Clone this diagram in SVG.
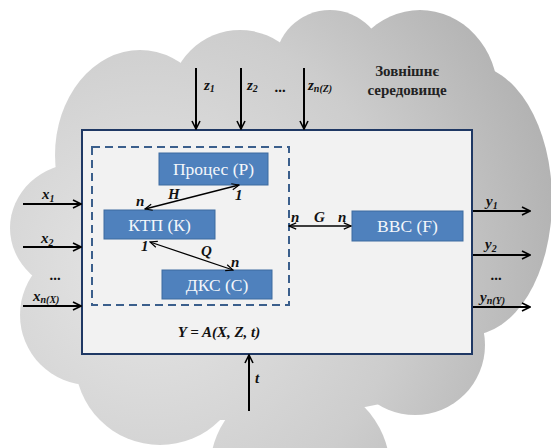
<svg xmlns="http://www.w3.org/2000/svg" width="551" height="448" viewBox="0 0 551 448">
<defs>
<radialGradient id="sky" gradientUnits="userSpaceOnUse" cx="150" cy="270" r="460">
<stop offset="0" stop-color="#e6e6e6"/>
<stop offset="0.55" stop-color="#cdcdcd"/>
<stop offset="1" stop-color="#ababab"/>
</radialGradient>
<marker id="ah" viewBox="0 0 10 10" refX="9" refY="5" markerWidth="10" markerHeight="10" markerUnits="userSpaceOnUse" orient="auto-start-reverse">
<path d="M1,1 L9,5 L1,9" fill="none" stroke="#000" stroke-width="1.6"/>
</marker>
<marker id="ahs" viewBox="0 0 10 10" refX="9" refY="5" markerWidth="9" markerHeight="9" markerUnits="userSpaceOnUse" orient="auto-start-reverse">
<path d="M1,1.5 L9,5 L1,8.5" fill="none" stroke="#000" stroke-width="1.3"/>
</marker>
</defs>
<style>
.node rect{fill:#4f81bd;stroke:#3d6b9f;stroke-width:1}
.node text{font-size:17.5px;fill:#f4f7fb;text-anchor:middle}
.lbl{font-weight:bold;font-style:italic;font-size:15px;fill:#111}
.sub{font-size:10px}
.io{stroke:#000;stroke-width:2;fill:none;marker-end:url(#ah)}
.rel{stroke:#000;stroke-width:1.3;fill:none;marker-start:url(#ahs);marker-end:url(#ahs)}
.env{font-weight:bold;font-size:15px;fill:#222;text-anchor:middle}
</style>
<rect width="551" height="448" fill="#ffffff"/>
<g id="cloud" fill="url(#sky)">
<ellipse cx="140" cy="155" rx="85" ry="105"/>
<circle cx="240" cy="100" r="70"/>
<circle cx="330" cy="65" r="55"/>
<ellipse cx="420" cy="95" rx="78" ry="85"/>
<ellipse cx="470" cy="200" rx="82" ry="135"/>
<circle cx="415" cy="345" r="70"/>
<circle cx="300" cy="470" r="90"/>
<circle cx="160" cy="360" r="85"/>
<circle cx="90" cy="315" r="70"/>
<ellipse cx="80" cy="228" rx="70" ry="65"/>
<polygon points="100,120 250,70 420,80 500,150 500,320 400,400 300,420 150,420 60,330 40,220"/>
</g>
<g font-family="Liberation Serif, Times New Roman, serif">
<g id="env-label">
<text class="env" x="407" y="76">Зовнішнє</text>
<text class="env" x="407" y="95">середовище</text>
</g>
<g id="system">
<rect x="82" y="130" width="390" height="224" fill="#f2f2f2" stroke="#1f3864" stroke-width="2"/>
<rect x="92" y="147" width="197" height="158" fill="none" stroke="#3b5f8c" stroke-width="2" stroke-dasharray="8,5"/>
<text class="lbl" x="219" y="337" text-anchor="middle" font-size="14">Y = A(X, Z, t)</text>
</g>
<g id="proc" class="node"><rect x="159" y="153" width="109" height="32"/><text x="213.5" y="175">Процес (Р)</text></g>
<g id="ktp" class="node"><rect x="104" y="210" width="111" height="29"/><text x="159.5" y="231">КТП (К)</text></g>
<g id="dks" class="node"><rect x="162" y="270" width="110" height="29"/><text x="217" y="291">ДКС (С)</text></g>
<g id="vvs" class="node"><rect x="352" y="211" width="111" height="30"/><text x="407.5" y="232">ВВС (F)</text></g>
<g id="connectors">
<line class="rel" x1="145" y1="209" x2="239" y2="185"/>
<line class="rel" x1="150" y1="242" x2="233" y2="270"/>
<line class="rel" x1="289" y1="226" x2="351" y2="226"/>
<line class="io" x1="23" y1="204" x2="81" y2="204"/>
<line class="io" x1="23" y1="247" x2="81" y2="247"/>
<line class="io" x1="23" y1="306" x2="81" y2="306"/>
<line class="io" x1="473" y1="211" x2="530" y2="211"/>
<line class="io" x1="473" y1="255" x2="530" y2="255"/>
<line class="io" x1="473" y1="307" x2="530" y2="307"/>
<line class="io" x1="196" y1="68" x2="196" y2="129"/>
<line class="io" x1="241" y1="68" x2="241" y2="129"/>
<line class="io" x1="304" y1="68" x2="304" y2="129"/>
<line class="io" x1="249" y1="411" x2="249" y2="355"/>
</g>
<g id="labels">
<text class="lbl" x="168" y="199">H</text>
<text class="lbl" x="136" y="206" font-size="14">n</text>
<text class="lbl" x="235" y="200" font-size="14">1</text>
<text class="lbl" x="141" y="251" font-size="14">1</text>
<text class="lbl" x="201" y="256">Q</text>
<text class="lbl" x="231" y="267" font-size="14">n</text>
<text class="lbl" x="291" y="222" font-size="14">n</text>
<text class="lbl" x="314" y="222">G</text>
<text class="lbl" x="338" y="222" font-size="14">n</text>
<text class="lbl" x="42" y="199" font-size="16">x<tspan class="sub" dy="3">1</tspan></text>
<text class="lbl" x="41" y="243" font-size="16">x<tspan class="sub" dy="3">2</tspan></text>
<text class="lbl" x="50" y="280" font-style="normal">...</text>
<text class="lbl" x="33" y="301">x<tspan class="sub" dy="2">n(X)</tspan></text>
<text class="lbl" x="486" y="206" font-size="16">y<tspan class="sub" dy="3">1</tspan></text>
<text class="lbl" x="485" y="249" font-size="16">y<tspan class="sub" dy="3">2</tspan></text>
<text class="lbl" x="491" y="280" font-style="normal">...</text>
<text class="lbl" x="480" y="302">y<tspan class="sub" dy="2">n(Y)</tspan></text>
<text class="lbl" x="204" y="90" font-size="16">z<tspan class="sub" dy="2">1</tspan></text>
<text class="lbl" x="247" y="90" font-size="16">z<tspan class="sub" dy="2">2</tspan></text>
<text class="lbl" x="275" y="92" font-style="normal">...</text>
<text class="lbl" x="308" y="90" font-size="16">z<tspan class="sub" dy="2">n(Z)</tspan></text>
<text class="lbl" x="255" y="383">t</text>
</g>
</g>
</svg>
